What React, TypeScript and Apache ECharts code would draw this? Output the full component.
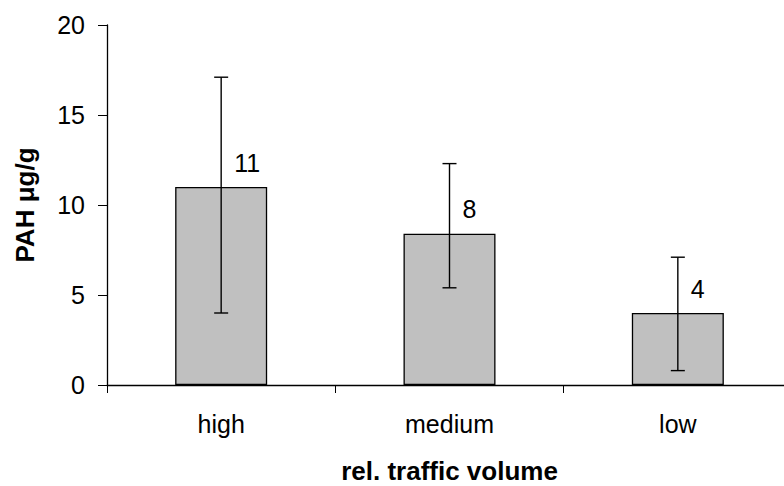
import React, { useEffect, useRef } from "react";
import * as echarts from "echarts";

// Traffic volume classes and PAH concentrations (µg/g)
const categories = ["high", "medium", "low"];
const meanValues = [11, 8.4, 4];
const errorLow = [4, 5.4, 0.8];
const errorHigh = [17.1, 12.3, 7.1];
const yTicks = { min: 0, max: 20, interval: 5 };

const FONT = "'Liberation Sans', Arial, Helvetica, sans-serif";

export default function App() {
  const ref = useRef<HTMLDivElement>(null);

  useEffect(() => {
    if (!ref.current) return;
    const chart = echarts.init(ref.current, null, { renderer: "svg" });

    const errorData = categories.map((_, i) => [i, errorLow[i], errorHigh[i]]);

    chart.setOption({
      animation: false,
      backgroundColor: "#ffffff",
      grid: {
        left: 107,
        right: -8,
        top: 25,
        bottom: 101,
        containLabel: false,
        outerBoundsMode: "none",
      },
      xAxis: {
        type: "category",
        data: categories,
        name: "rel. traffic volume",
        nameLocation: "middle",
        nameGap: 73,
        nameTextStyle: { fontFamily: FONT, fontSize: 26, fontWeight: "bold", color: "#000" },
        axisLine: { show: true, lineStyle: { color: "#000", width: 1.3 } },
        axisTick: { show: true, alignWithLabel: false, length: 8, lineStyle: { color: "#000", width: 1 } },
        axisLabel: { fontFamily: FONT, fontSize: 25, color: "#000", margin: 26 },
        splitLine: { show: false },
      },
      yAxis: {
        type: "value",
        min: yTicks.min,
        max: yTicks.max,
        interval: yTicks.interval,
        name: "PAH μg/g",
        nameLocation: "middle",
        nameRotate: 90,
        nameGap: 69,
        nameTextStyle: { fontFamily: FONT, fontSize: 26, fontWeight: "bold", color: "#000" },
        axisLine: { show: true, lineStyle: { color: "#000", width: 1.3 } },
        axisTick: { show: true, inside: false, length: 9, lineStyle: { color: "#000", width: 1 } },
        axisLabel: { fontFamily: FONT, fontSize: 25, color: "#000", margin: 22 },
        splitLine: { show: false },
      },
      series: [
        {
          type: "bar",
          data: meanValues,
          barWidth: 92,
          itemStyle: { color: "#c0c0c0", borderColor: "#000", borderWidth: 1.3 },
          label: {
            show: true,
            position: "top",
            distance: 12,
            align: "left",
            offset: [13, 0],
            fontFamily: FONT,
            fontSize: 25,
            color: "#000",
            formatter: (p: any) => String(Math.round(p.value)),
          },
          z: 2,
        },
        {
          type: "custom",
          data: errorData,
          z: 5,
          renderItem: (params: any, api: any) => {
            const x = api.value(0);
            const lo = api.coord([x, api.value(1)]);
            const hi = api.coord([x, api.value(2)]);
            const cap = 7;
            const style = { stroke: "#000", lineWidth: 1.4 };
            return {
              type: "group",
              children: [
                { type: "line", shape: { x1: lo[0], y1: lo[1], x2: hi[0], y2: hi[1] }, style },
                { type: "line", shape: { x1: hi[0] - cap, y1: hi[1], x2: hi[0] + cap, y2: hi[1] }, style },
                { type: "line", shape: { x1: lo[0] - cap, y1: lo[1], x2: lo[0] + cap, y2: lo[1] }, style },
              ],
            };
          },
        },
      ],
    });

    return () => chart.dispose();
  }, []);

  return (
    <div
      ref={ref}
      style={{ position: "fixed", left: 0, top: 0, width: 784, height: 486, background: "#fff" }}
    />
  );
}
